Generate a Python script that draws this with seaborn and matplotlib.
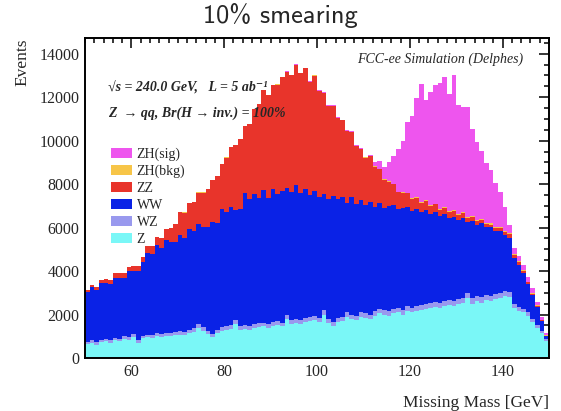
import numpy as np
import pandas as pd
import matplotlib
matplotlib.use("Agg")
import matplotlib.pyplot as plt
import seaborn as sns
from matplotlib.patches import Patch
from matplotlib.ticker import MultipleLocator

# Missing-mass histogram, 1 GeV bins from 50 to 150 GeV (bin lower edges)
bin_edges_low = list(range(50, 150))

# Events per bin for each process
z_events = [650, 700, 620, 720, 760, 700, 820, 760, 880, 840,
            980, 700, 900, 950, 920, 1000, 980, 1030, 1000, 1060,
            1080, 1040, 1150, 1200, 1400, 1250, 1100, 950, 1150, 1250,
            1300, 1350, 1580, 1300, 1350, 1300, 1400, 1420, 1450, 1400,
            1480, 1500, 1450, 1780, 1550, 1600, 1550, 1650, 1700, 1750,
            1650, 2000, 1600, 1450, 1650, 1700, 1900, 1800, 1750, 1900,
            1850, 1800, 1950, 2050, 2000, 1950, 2050, 2100, 2000, 2150,
            2100, 2150, 2200, 2250, 2300, 2350, 2300, 2400, 2450, 2400,
            2500, 2550, 2750, 2500, 2600, 2550, 2650, 2600, 2700, 2750,
            2850, 2800, 2300, 2150, 2100, 1950, 1650, 1400, 1150, 800]

wz_events = [100, 110, 100, 110, 120, 110, 120, 120, 130, 120,
             130, 120, 130, 130, 130, 140, 140, 140, 140, 150,
             150, 150, 150, 160, 160, 160, 160, 150, 160, 160,
             170, 170, 170, 170, 170, 170, 180, 180, 180, 180,
             180, 180, 180, 190, 190, 190, 190, 190, 190, 190,
             190, 200, 200, 200, 200, 200, 200, 200, 200, 200,
             200, 200, 210, 210, 210, 210, 210, 210, 210, 220,
             220, 220, 220, 220, 220, 220, 230, 230, 230, 230,
             230, 230, 240, 240, 240, 240, 240, 240, 240, 240,
             240, 240, 200, 180, 160, 150, 130, 110, 90, 60]

ww_events = [2300, 2440, 2430, 2620, 2570, 2590, 2760, 2820, 2690, 3040,
             2890, 3180, 3370, 3770, 3750, 4060, 3950, 4280, 4210, 4150,
             4450, 4350, 4620, 4500, 4600, 4600, 4780, 5150, 4920, 5450,
             5250, 5440, 5080, 5400, 6050, 5850, 5960, 5780, 6080, 5800,
             6100, 5850, 6050, 5850, 5920, 6150, 5850, 5950, 5620, 5750,
             5550, 5350, 5500, 5800, 5450, 5530, 5050, 5400, 5150, 5150,
             4970, 5180, 4800, 4880, 4700, 4840, 4780, 4560, 4690, 4600,
             4450, 4500, 4300, 4350, 4120, 4150, 4000, 3980, 3760, 3880,
             3620, 3640, 3250, 3560, 3300, 3400, 3120, 3200, 2920, 2850,
             2560, 2500, 2100, 1970, 1640, 1300, 1120, 840, 460, 140]

zz_events = [100, 100, 100, 150, 200, 200, 200, 200, 200, 200,
             250, 250, 250, 300, 350, 350, 450, 500, 650, 800,
             1050, 1150, 1200, 1300, 1450, 1600, 1750, 1950, 2150, 2050,
             2500, 2750, 2950, 3200, 3100, 3450, 3900, 4300, 4600, 4700,
             4800, 5050, 5250, 5350, 5350, 5550, 5500, 5550, 5200, 5300,
             4900, 4650, 4300, 4150, 3750, 3500, 3300, 3000, 2650, 2350,
             2200, 2100, 1850, 1550, 1300, 1100, 950, 750, 700, 600,
             550, 500, 400, 400, 350, 350, 300, 300, 300, 250,
             250, 250, 200, 200, 150, 150, 150, 100, 100, 150,
             150, 150, 150, 120, 100, 80, 60, 50, 40, 30]

zh_bkg_events = [0, 0, 0, 0, 0, 0, 0, 0, 0, 0,
                 0, 0, 0, 0, 0, 0, 0, 0, 0, 0,
                 5, 5, 5, 5, 5, 5, 5, 5, 5, 5,
                 5, 5, 5, 5, 5, 5, 5, 5, 5, 5,
                 5, 5, 5, 10, 10, 10, 10, 10, 10, 10,
                 10, 10, 10, 10, 15, 15, 15, 15, 15, 20,
                 20, 20, 20, 20, 25, 25, 25, 25, 30, 30,
                 30, 30, 35, 35, 35, 35, 40, 40, 40, 40,
                 45, 45, 45, 50, 50, 50, 55, 55, 60, 60,
                 60, 60, 50, 40, 40, 30, 30, 20, 20, 10]

zh_sig_events = [0, 0, 0, 0, 0, 0, 0, 0, 0, 0,
                 0, 0, 0, 0, 0, 0, 0, 0, 0, 0,
                 0, 0, 0, 0, 0, 0, 0, 0, 0, 0,
                 5, 5, 5, 5, 5, 5, 5, 5, 5, 5,
                 5, 5, 5, 5, 5, 5, 5, 5, 5, 5,
                 10, 10, 10, 10, 15, 15, 15, 15, 20, 20,
                 20, 50, 170, 370, 570, 870, 1270, 1970, 2370, 3270,
                 3770, 4570, 5470, 4620, 5220, 5460, 5760, 5960, 5360, 6210,
                 5000, 4850, 5050, 4000, 3600, 3150, 2750, 2450, 2030, 1590,
                 1090, 390, 250, 240, 260, 230, 210, 170, 140, 100]

process_names = ["ZH(sig)", "ZH(bkg)", "ZZ", "WW", "WZ", "Z"]
process_colors = ["#EE55EE", "#F7C548", "#E8342B", "#0A22E6", "#9999EE", "#7AF7F7"]
process_events = [zh_sig_events, zh_bkg_events, zz_events, ww_events, wz_events, z_events]

frames = []
for name, events in zip(process_names, process_events):
    frames.append(pd.DataFrame({
        "mass": np.array(bin_edges_low) + 0.5,
        "events": events,
        "process": name,
    }))
data = pd.concat(frames, ignore_index=True)

sns.set_style("white")
plt.rcParams["font.family"] = ["Liberation Serif", "DejaVu Serif"]

fig = plt.figure(figsize=(5.61, 4.11), dpi=100)
ax = fig.add_axes([85 / 561, 1 - 358 / 411, 464 / 561, (358 - 38.5) / 411])

sns.histplot(
    data=data, x="mass", weights="events", hue="process",
    hue_order=process_names, palette=dict(zip(process_names, process_colors)),
    multiple="stack", binwidth=1, binrange=(50, 150),
    element="step", fill=True, alpha=1.0, linewidth=0, legend=False, ax=ax,
)

ax.set_xlim(50, 150)
ax.set_ylim(0, 14700)
ax.xaxis.set_major_locator(MultipleLocator(20))
ax.xaxis.set_minor_locator(MultipleLocator(2))
ax.yaxis.set_major_locator(MultipleLocator(2000))
ax.yaxis.set_minor_locator(MultipleLocator(500))
ax.tick_params(which="both", direction="in", top=True, right=True,
               labelsize=11.5, width=1.1, color="black", pad=4)
ax.tick_params(which="major", length=7)
ax.tick_params(which="minor", length=3.5)
for spine in ax.spines.values():
    spine.set_linewidth(1.4)
    spine.set_color("black")

ax.set_xlabel("Missing Mass [GeV]", fontsize=12.5, loc="right")
ax.set_ylabel("Events", fontsize=12.5, loc="top")
ax.xaxis.set_label_coords(1.0, -0.115)
ax.yaxis.set_label_coords(-0.118, 1.0)

ax.text(0.945, 0.955, "FCC-ee Simulation (Delphes)", transform=ax.transAxes,
        ha="right", va="top", fontsize=10, style="italic")
ax.text(0.05, 0.845, "\u221as = 240.0 GeV,   L = 5 ab\u207b\u00b9", transform=ax.transAxes,
        ha="left", va="center", fontsize=10, style="italic", weight="bold")
ax.text(0.05, 0.765, "Z  \u2192 qq, Br(H \u2192 inv.) = 100%", transform=ax.transAxes,
        ha="left", va="center", fontsize=10, style="italic", weight="bold")

handles = [Patch(facecolor=c, edgecolor="none", label=n)
           for n, c in zip(process_names, process_colors)]
ax.legend(handles=handles, loc="upper left", bbox_to_anchor=(0.056, 0.66),
          frameon=False, fontsize=10, handlelength=1.5, handleheight=0.75,
          handletextpad=0.35, labelspacing=0.28, borderpad=0, borderaxespad=0)

fig.text(0.5, 1 - 16 / 411, "10% smearing", ha="center", va="center",
         fontsize=19, family="cmss10")

fig.savefig("out.png", dpi=100)
